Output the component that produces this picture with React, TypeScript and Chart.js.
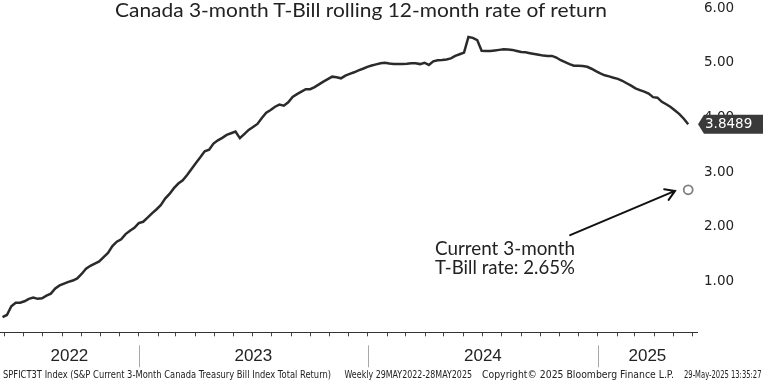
import React, { useEffect, useRef } from 'react';
import { Chart, registerables } from 'chart.js';

Chart.register(...registerables);

// ---------- data ----------
const START_DATE = '2022-05-29';
// weekly rolling 12-month rate of return (%)
const rollingReturn: number[] = [
  0.32, 0.36, 0.52, 0.585, 0.585, 0.61, 0.655, 0.68, 0.655, 0.665,
  0.715, 0.75, 0.845, 0.9, 0.935, 0.965, 0.99, 1.03, 1.11, 1.205,
  1.26, 1.3, 1.34, 1.42, 1.495, 1.62, 1.7, 1.745, 1.84, 1.9,
  1.955, 2.04, 2.065, 2.14, 2.22, 2.29, 2.37, 2.49, 2.575, 2.68,
  2.765, 2.825, 2.92, 3.03, 3.14, 3.245, 3.355, 3.385, 3.495, 3.555,
  3.6, 3.655, 3.685, 3.715, 3.595, 3.67, 3.745, 3.8, 3.855, 3.965,
  4.06, 4.11, 4.17, 4.21, 4.19, 4.25, 4.35, 4.4, 4.445, 4.49,
  4.49, 4.53, 4.58, 4.63, 4.675, 4.72, 4.71, 4.69, 4.74, 4.77,
  4.8, 4.835, 4.865, 4.9, 4.925, 4.945, 4.965, 4.975, 4.96, 4.95,
  4.95, 4.95, 4.955, 4.965, 4.965, 4.95, 4.975, 4.935, 5.0, 5.02,
  5.025, 5.035, 5.055, 5.1, 5.13, 5.16, 5.445, 5.43, 5.39, 5.195,
  5.19, 5.19, 5.2, 5.21, 5.22, 5.215, 5.21, 5.19, 5.17, 5.165,
  5.15, 5.135, 5.12, 5.105, 5.1, 5.1, 5.07, 5.02, 4.985, 4.95,
  4.92, 4.92, 4.915, 4.9, 4.865, 4.82, 4.78, 4.745, 4.725, 4.7,
  4.68, 4.645, 4.6, 4.555, 4.505, 4.475, 4.445, 4.41, 4.345, 4.335,
  4.26, 4.215, 4.165, 4.1, 4.035, 3.95, 3.8489,
];
const currentTBillRate = 2.65;
const yTickValues = [1, 2, 3, 4, 5, 6];
const yearLabels = ['2022', '2023', '2024', '2025'];
const X_MIN_DAY = -4;
const X_MAX_DAY = 1106;
const Y_MIN = 0.043;
const Y_MAX = 6;
// annotation arrow, in (day offset, value)
const arrowFrom = { x: 904, y: 1.82 };
const arrowTo = { x: 1071, y: 2.63 };

const titleText = 'Canada 3-month T-Bill rolling 12-month rate of return';
const noteLines = ['Current 3-month', 'T-Bill rate: 2.65%'];
const footParts = [
  'SPFICT3T Index (S&P Current 3-Month Canada Treasury Bill Index Total Return)',
  'Weekly 29MAY2022-28MAY2025',
  'Copyright\u00A9 2025 Bloomberg Finance L.P.',
  '29-May-2025 13:35:27',
];

// ---------- derived ----------
const dayOffset = (iso: string) => (Date.parse(iso) - Date.parse(START_DATE)) / 86400000;
const weekDays = rollingReturn.map((_, i) => i * 7);
const lastDay = weekDays[weekDays.length - 1];
const lastValue = rollingReturn[rollingReturn.length - 1];

const monthTicks: number[] = [];
for (let y = 2022; y <= 2025; y++) {
  for (let m = 1; m <= 12; m++) {
    const d = dayOffset(`${y}-${String(m).padStart(2, '0')}-01`);
    if (d > X_MIN_DAY && d < X_MAX_DAY) monthTicks.push(d);
  }
}
const yearStarts = yearLabels.slice(1).map((y) => dayOffset(`${y}-01-01`));
const bounds = [X_MIN_DAY, ...yearStarts, X_MAX_DAY];
const yearMids = yearLabels.map((_, i) => (bounds[i] + bounds[i + 1]) / 2);
const midIndex = (v: number) => yearMids.findIndex((m) => Math.abs(m - v) < 0.01);
const allXTicks = [...monthTicks, ...yearMids].sort((a, b) => a - b);

const overlayPlugin = {
  id: 'overlayPlugin',
  afterDraw(chart: any) {
    const { ctx, chartArea, scales } = chart;
    const xs = scales.x;
    const ys = scales.y;
    ctx.save();
    // year separators
    ctx.strokeStyle = '#a8a8a8';
    ctx.lineWidth = 1;
    yearStarts.forEach((d) => {
      const px = Math.round(xs.getPixelForValue(d)) + 0.5;
      ctx.beginPath();
      ctx.moveTo(px, chartArea.bottom + 13);
      ctx.lineTo(px, chartArea.bottom + 35);
      ctx.stroke();
    });
    // arrow
    const x0 = xs.getPixelForValue(arrowFrom.x);
    const y0 = ys.getPixelForValue(arrowFrom.y);
    const x1 = xs.getPixelForValue(arrowTo.x);
    const y1 = ys.getPixelForValue(arrowTo.y);
    ctx.strokeStyle = '#111';
    ctx.lineWidth = 2;
    ctx.lineCap = 'round';
    ctx.beginPath();
    ctx.moveTo(x0, y0);
    ctx.lineTo(x1, y1);
    const a = Math.atan2(y1 - y0, x1 - x0);
    const L = 11;
    ctx.moveTo(x1 - L * Math.cos(a - 0.55), y1 - L * Math.sin(a - 0.55));
    ctx.lineTo(x1, y1);
    ctx.lineTo(x1 - L * Math.cos(a + 0.55), y1 - L * Math.sin(a + 0.55));
    ctx.stroke();
    // last value label
    const ly = ys.getPixelForValue(lastValue);
    const tipX = chartArea.right + 1;
    const h = 19;
    ctx.fillStyle = '#3a3a3a';
    ctx.beginPath();
    ctx.moveTo(tipX, ly);
    ctx.lineTo(tipX + 6, ly - h / 2);
    ctx.lineTo(chart.width, ly - h / 2);
    ctx.lineTo(chart.width, ly + h / 2);
    ctx.lineTo(tipX + 6, ly + h / 2);
    ctx.closePath();
    ctx.fill();
    ctx.fillStyle = '#ffffff';
    ctx.font = '13.5px "DejaVu Sans"';
    ctx.textBaseline = 'middle';
    ctx.textAlign = 'left';
    ctx.fillText(lastValue.toFixed(4), tipX + 7, ly + 0.5);
    ctx.restore();
  },
};

export default function App() {
  const canvasRef = useRef<HTMLCanvasElement | null>(null);

  useEffect(() => {
    if (!canvasRef.current) return;
    const chart = new Chart(canvasRef.current, {
      type: 'line',
      data: {
        datasets: [
          {
            label: 'Rolling 12-month return',
            data: weekDays.map((d, i) => ({ x: d, y: rollingReturn[i] })),
            borderColor: '#2b2b2b',
            borderWidth: 2.5,
            pointRadius: 0,
            tension: 0,
            fill: false,
          },
          {
            label: 'Current 3-month T-Bill rate',
            data: [{ x: lastDay, y: currentTBillRate }],
            showLine: false,
            pointRadius: 4.5,
            pointBorderWidth: 1.8,
            pointBorderColor: '#808080',
            pointBackgroundColor: '#ffffff',
            borderColor: '#808080',
            backgroundColor: '#ffffff',
          },
        ],
      },
      options: {
        responsive: false,
        animation: false,
        devicePixelRatio: 1,
        layout: { autoPadding: false, padding: { top: 6.7, left: 0, right: 0, bottom: 0 } },
        plugins: { legend: { display: false }, tooltip: { enabled: false }, title: { display: false } },
        scales: {
          x: {
            type: 'linear',
            min: X_MIN_DAY,
            max: X_MAX_DAY,
            afterBuildTicks: (s: any) => {
              s.ticks = allXTicks.map((v) => ({ value: v }));
            },
            afterFit: (s: any) => {
              s.height = 48.7;
              s.paddingLeft = 0;
              s.paddingRight = 0;
            },
            grid: {
              drawOnChartArea: false,
              drawTicks: true,
              tickLength: 4,
              tickColor: (c: any) => (c.tick && midIndex(c.tick.value) >= 0 ? 'rgba(0,0,0,0)' : '#444'),
              lineWidth: 1,
            },
            border: { display: true, color: '#333', width: 1 },
            ticks: {
              autoSkip: false,
              maxRotation: 0,
              minRotation: 0,
              padding: 10,
              color: '#222',
              font: { family: 'Liberation Sans', size: 17 },
              callback: (v: any) => {
                const i = midIndex(Number(v));
                return i >= 0 ? yearLabels[i] : '';
              },
            },
          },
          y: {
            type: 'linear',
            position: 'right',
            min: Y_MIN,
            max: Y_MAX,
            afterBuildTicks: (s: any) => {
              s.ticks = yTickValues.map((v) => ({ value: v }));
            },
            afterFit: (s: any) => {
              s.width = 66;
              s.paddingTop = 0;
              s.paddingBottom = 0;
            },
            grid: { display: false, drawTicks: false },
            border: { display: false },
            ticks: {
              padding: 7,
              labelOffset: 1.5,
              color: '#222',
              font: { family: 'DejaVu Sans', size: 13.5, lineHeight: 1 },
              callback: (v: any) => Number(v).toFixed(2),
            },
          },
        },
      },
      plugins: [overlayPlugin],
    });
    return () => chart.destroy();
  }, []);

  const footX = [[3, 328], [344.5, 127.5], [482, 192], [684, 77.5]];

  return (
    <div style={{ position: 'absolute', left: 0, top: 0, width: 763, height: 381, background: '#fff' }}>
      <canvas ref={canvasRef} width={763} height={381} style={{ display: 'block' }} />
      <svg
        width={763}
        height={381}
        style={{ position: 'absolute', left: 0, top: 0, pointerEvents: 'none' }}
      >
        <text x={115} y={17} fontFamily="Lato" fontSize={19.5} fill="#222" textLength={492} lengthAdjust="spacingAndGlyphs">
          {titleText}
        </text>
        <text x={435} y={255} fontFamily="Lato" fontSize={19} fill="#222" textLength={140} lengthAdjust="spacingAndGlyphs">
          {noteLines[0]}
        </text>
        <text x={435} y={273.5} fontFamily="Lato" fontSize={19} fill="#222" textLength={140} lengthAdjust="spacingAndGlyphs">
          {noteLines[1]}
        </text>
        {footParts.map((t, i) => (
          <text
            key={i}
            x={footX[i][0]}
            y={378}
            fontFamily="DejaVu Sans"
            fontSize={10.5}
            fill="#222"
            textLength={footX[i][1]}
            lengthAdjust="spacingAndGlyphs"
          >
            {t}
          </text>
        ))}
      </svg>
    </div>
  );
}
